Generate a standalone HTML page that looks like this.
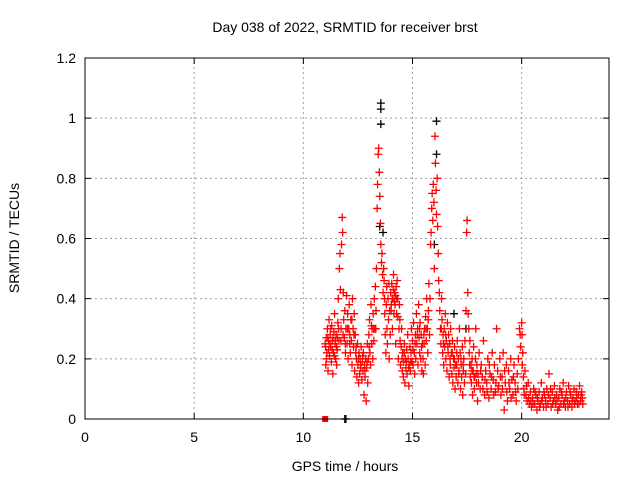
<!DOCTYPE html>
<html><head><meta charset="utf-8"><style>
body{margin:0;background:#fff}
svg text{font-family:"Liberation Sans",sans-serif;font-size:14px;fill:#000}
</style></head><body>
<svg id="chart" width="640" height="480" viewBox="0 0 640 480" xmlns="http://www.w3.org/2000/svg">
<rect width="640" height="480" fill="#fff"/>
<text x="345" y="32" text-anchor="middle">Day 038 of 2022, SRMTID for receiver brst</text>
<text x="345" y="471" text-anchor="middle">GPS time / hours</text>
<text x="0" y="0" text-anchor="middle" transform="translate(19,238) rotate(-90)">SRMTID / TECUs</text>
<g id="grid"></g>
<g id="marks"></g>
<rect x="85" y="58" width="524" height="361" fill="none" stroke="#000" stroke-width="1"/>
<g id="axes"></g>
</svg>
<script>
const xTicks=[0,5,10,15,20];
const yTicks=[0,0.2,0.4,0.6,0.8,1,1.2];
const yTickLabels=["0","0.2","0.4","0.6","0.8","1","1.2"];
const blackSeries=[[13.55,1.05],[13.55,1.03],[13.55,0.98],[13.5,0.64],[13.65,0.62],[16.1,0.99],[16.1,0.88],[16.0,0.58],[11.9,0.0],[11.95,0.0],[17.45,0.3],[16.9,0.35]];
const redSeries=[[11.00,.25],[11.03,.18],[11.05,.27],[11.08,.22],[11.10,.30],[11.13,.16],[11.15,.26],[11.18,.33],[11.20,.21],[11.23,.28],[11.25,.24],[11.28,.19],[11.30,.31],[11.33,.26],[11.35,.15],[11.38,.22],[11.40,.29],[11.43,.35],[11.45,.25],[11.48,.20],[11.50,.28],[11.53,.18],[11.55,.23],[11.58,.32],[11.60,.40],[11.63,.26],[11.65,.50],[11.68,.55],[11.70,.43],[11.73,.30],[11.75,.58],[11.78,.67],[11.80,.62],[11.83,.42],[11.85,.33],[11.88,.27],[11.90,.36],[11.93,.22],[11.95,.30],[11.98,.41],[12.00,.25],[12.03,.35],[12.05,.20],[12.08,.30],[12.10,.38],[12.13,.28],[12.15,.22],[12.18,.33],[12.20,.26],[12.23,.18],[12.25,.40],[12.28,.30],[12.30,.24],[12.33,.35],[12.35,.16],[12.38,.28],[12.40,.22],[12.43,.20],[12.45,.14],[12.48,.25],[12.50,.18],[12.53,.12],[12.55,.22],[12.58,.15],[12.60,.20],[12.63,.17],[12.65,.24],[12.68,.13],[12.70,.19],[12.73,.16],[12.75,.22],[12.78,.08],[12.80,.18],[12.83,.14],[12.85,.20],[12.88,.06],[12.90,.17],[12.93,.25],[12.95,.12],[12.98,.20],[13.00,.28],[13.03,.33],[13.05,.22],[13.08,.18],[13.10,.38],[13.13,.25],[13.15,.30],[13.18,.20],[13.20,.35],[13.23,.26],[13.25,.40],[13.28,.30],[13.30,.44],[13.33,.36],[13.35,.50],[13.38,.70],[13.40,.78],[13.43,.88],[13.45,.90],[13.48,.82],[13.50,.74],[13.53,.65],[13.55,.58],[13.58,.52],[13.60,.55],[13.63,.48],[13.65,.42],[13.68,.50],[13.70,.46],[13.73,.35],[13.75,.28],[13.78,.22],[13.80,.38],[13.83,.30],[13.85,.25],[13.88,.40],[13.90,.33],[13.93,.20],[13.95,.36],[13.98,.28],[14.00,.42],[14.03,.38],[14.05,.45],[14.08,.30],[14.10,.40],[14.13,.48],[14.15,.35],[14.18,.42],[14.20,.38],[14.23,.25],[14.25,.44],[14.28,.40],[14.30,.46],[14.33,.34],[14.35,.20],[14.38,.30],[14.40,.38],[14.43,.26],[14.45,.18],[14.48,.24],[14.50,.30],[14.53,.16],[14.55,.22],[14.58,.14],[14.60,.19],[14.63,.25],[14.65,.12],[14.68,.20],[14.70,.17],[14.73,.23],[14.75,.15],[14.78,.28],[14.80,.20],[14.83,.11],[14.85,.18],[14.88,.24],[14.90,.16],[14.93,.22],[14.95,.30],[14.98,.19],[15.00,.26],[15.03,.18],[15.05,.32],[15.08,.22],[15.10,.15],[15.13,.28],[15.15,.20],[15.18,.35],[15.20,.25],[15.23,.30],[15.25,.18],[15.28,.38],[15.30,.27],[15.33,.22],[15.35,.32],[15.38,.20],[15.40,.28],[15.43,.16],[15.45,.25],[15.48,.20],[15.50,.15],[15.53,.25],[15.55,.30],[15.58,.18],[15.60,.34],[15.63,.26],[15.65,.40],[15.68,.30],[15.70,.22],[15.73,.36],[15.75,.45],[15.78,.28],[15.80,.40],[15.83,.58],[15.85,.62],[15.88,.70],[15.90,.75],[15.93,.66],[15.95,.78],[15.98,.72],[16.00,.50],[16.03,.94],[16.05,.85],[16.08,.76],[16.10,.68],[16.13,.80],[16.15,.64],[16.18,.55],[16.20,.46],[16.23,.42],[16.25,.36],[16.28,.30],[16.30,.25],[16.33,.40],[16.35,.33],[16.38,.22],[16.40,.28],[16.43,.18],[16.45,.30],[16.48,.24],[16.50,.35],[16.53,.20],[16.55,.26],[16.58,.16],[16.60,.32],[16.63,.22],[16.65,.28],[16.68,.14],[16.70,.25],[16.73,.18],[16.75,.30],[16.78,.22],[16.80,.15],[16.83,.26],[16.85,.12],[16.88,.20],[16.90,.17],[16.93,.24],[16.95,.10],[16.98,.18],[17.00,.14],[17.03,.22],[17.05,.26],[17.08,.12],[17.10,.20],[17.13,.16],[17.15,.30],[17.18,.22],[17.20,.10],[17.23,.18],[17.25,.14],[17.28,.24],[17.30,.08],[17.33,.16],[17.35,.20],[17.38,.12],[17.40,.26],[17.43,.15],[17.45,.36],[17.48,.62],[17.50,.66],[17.53,.42],[17.55,.35],[17.58,.30],[17.60,.22],[17.63,.26],[17.65,.14],[17.68,.18],[17.70,.12],[17.73,.20],[17.75,.08],[17.78,.16],[17.80,.24],[17.83,.10],[17.85,.14],[17.88,.20],[17.90,.30],[17.93,.12],[17.95,.18],[17.98,.06],[18.00,.15],[18.05,.22],[18.10,.10],[18.15,.18],[18.20,.14],[18.25,.26],[18.30,.08],[18.35,.16],[18.40,.12],[18.45,.20],[18.50,.07],[18.55,.15],[18.60,.10],[18.65,.22],[18.70,.13],[18.75,.18],[18.80,.09],[18.85,.30],[18.90,.16],[18.95,.11],[19.00,.20],[19.05,.08],[19.10,.14],[19.15,.22],[19.20,.03],[19.25,.12],[19.30,.18],[19.35,.06],[19.40,.16],[19.45,.10],[19.50,.20],[19.55,.13],[19.60,.08],[19.65,.18],[19.70,.12],[19.75,.06],[19.80,.15],[19.85,.20],[19.90,.30],[19.93,.28],[19.95,.24],[20.00,.32],[20.03,.18],[20.05,.22],[20.08,.14],[20.10,.10],[20.15,.16],[20.20,.08],[20.25,.06],[20.30,.12],[20.35,.05],[20.40,.09],[20.45,.04],[20.50,.07],[20.55,.10],[20.60,.05],[20.65,.08],[20.70,.03],[20.75,.06],[20.80,.09],[20.85,.05],[20.90,.12],[20.95,.07],[21.00,.04],[21.05,.08],[21.10,.06],[21.15,.10],[21.20,.05],[21.25,.15],[21.30,.07],[21.35,.04],[21.40,.09],[21.45,.06],[21.50,.11],[21.55,.05],[21.60,.08],[21.65,.03],[21.70,.07],[21.75,.10],[21.80,.05],[21.85,.08],[21.90,.12],[21.95,.06],[22.00,.04],[22.05,.09],[22.10,.06],[22.15,.11],[22.20,.05],[22.25,.08],[22.30,.04],[22.35,.07],[22.40,.10],[22.45,.06],[22.50,.09],[22.55,.05],[22.60,.08],[22.65,.11],[22.70,.06],[22.75,.09],[22.80,.05]];
const redExtra=[[11.02,.24],[11.06,.20],[11.12,.27],[11.16,.23],[11.22,.25],[11.26,.30],[11.32,.23],[11.36,.27],[11.42,.21],[11.46,.26],[11.52,.24],[11.56,.27],[11.62,.30],[11.72,.26],[11.82,.28],[11.92,.25],[12.02,.30],[12.12,.25],[12.22,.33],[12.32,.28],[12.42,.24],[12.52,.20],[12.62,.18],[12.72,.21],[12.82,.16],[12.92,.19],[13.02,.24],[13.12,.31],[13.22,.30],[13.32,.30],[13.72,.40],[13.82,.44],[13.92,.45],[14.02,.36],[14.07,.40],[14.12,.43],[14.17,.39],[14.22,.41],[14.27,.35],[14.32,.40],[14.42,.33],[14.52,.20],[14.62,.22],[14.72,.19],[14.82,.17],[14.92,.19],[15.02,.23],[15.12,.25],[15.22,.28],[15.32,.30],[15.42,.24],[15.52,.28],[15.62,.30],[15.72,.33],[16.32,.30],[16.42,.25],[16.52,.28],[16.62,.24],[16.72,.20],[16.82,.22],[16.92,.20],[17.02,.18],[17.12,.15],[17.22,.20],[17.32,.18],[17.62,.18],[17.72,.16],[17.82,.14],[17.92,.15],[18.02,.12],[18.12,.16],[18.22,.10],[18.32,.13],[18.42,.09],[18.52,.18],[18.62,.14],[18.72,.08],[18.82,.12],[18.92,.10],[19.02,.14],[19.12,.10],[19.22,.16],[19.32,.09],[19.42,.12],[19.52,.07],[19.62,.14],[19.72,.09],[19.82,.10],[20.02,.28],[20.12,.08],[20.22,.11],[20.32,.07],[20.42,.06],[20.52,.05],[20.62,.09],[20.72,.07],[20.82,.04],[20.92,.06],[21.02,.09],[21.12,.04],[21.22,.08],[21.32,.10],[21.42,.05],[21.52,.07],[21.62,.06],[21.72,.04],[21.82,.09],[21.92,.05],[22.02,.07],[22.12,.04],[22.22,.09],[22.32,.06],[22.42,.05],[22.52,.07],[22.62,.05],[22.72,.08],[22.78,.07]];
const redSquare=[[11.0,0.0]];

const NS="http://www.w3.org/2000/svg";
const X0=85,X1=609,Y0=419,Y1=58,XMAX=24,YMAX=1.2;
function xs(h){return X0+(X1-X0)*h/XMAX;}
function ys(v){return Y0-(Y0-Y1)*v/YMAX;}
const grid=document.getElementById('grid'),axes=document.getElementById('axes'),marks=document.getElementById('marks');
function mk(tag,attrs,parent){const e=document.createElementNS(NS,tag);for(const k in attrs)e.setAttribute(k,attrs[k]);parent.appendChild(e);return e;}
xTicks.forEach(t=>{const x=xs(t);
 if(t>0){const g=mk('line',{x1:x,x2:x,y1:Y0,y2:Y1,stroke:'#a0a0a0','stroke-dasharray':'2,3'},grid);
 
 }
 const tk=mk('path',{d:`M${x},${Y0}v-6M${x},${Y1}v6`,stroke:'#000'},axes);
 
 
 const lb=mk('text',{x:x,y:442,'text-anchor':'middle'},axes);lb.textContent=String(t);
 
 
});
yTicks.forEach((t,i)=>{const y=ys(t);
 if(t>0&&t<YMAX){const g=mk('line',{x1:X0,x2:X1,y1:y,y2:y,stroke:'#a0a0a0','stroke-dasharray':'2,3'},grid);
 
 }
 const tk=mk('path',{d:`M${X0},${y}h6M${X1},${y}h-6`,stroke:'#000'},axes);
 
 
 const lb=mk('text',{x:76,y:y+5,'text-anchor':'end'},axes);lb.textContent=yTickLabels[i];
 
 
});
function plus(p,color,name){const x=xs(p[0]),y=ys(p[1]);
 const e=mk('path',{d:`M${x-4},${y}h8M${x},${y-4}v8`,stroke:color,'stroke-width':1.3,fill:'none'},marks);
 
 }
blackSeries.forEach(p=>plus(p,'#000','black-point'));
redSeries.forEach(p=>plus(p,'#f00','red-point'));
redExtra.forEach(p=>plus(p,'#f00','red-point'));
redSquare.forEach(p=>{const e=mk('rect',{x:xs(p[0])-3,y:ys(p[1])-3,width:6,height:6,fill:'#f00'},marks);
 
 });
</script>
</body></html>
